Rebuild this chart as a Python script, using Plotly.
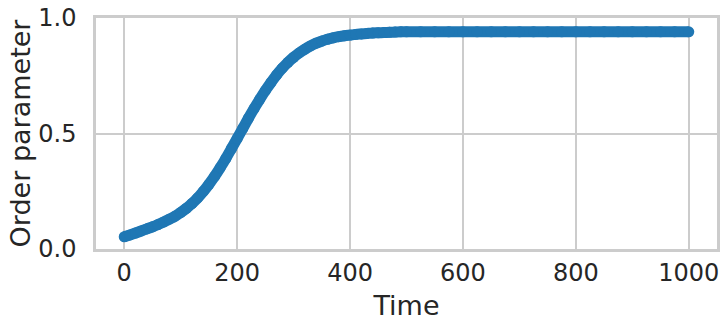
import plotly.graph_objects as go

# Time samples and order-parameter values
time_early = [0, 10, 20, 30, 40, 50, 60, 70, 80, 90,
              100, 110, 120, 130, 140, 150, 160, 170, 180, 190,
              200, 210, 220, 230, 240, 250, 260, 270, 280, 290,
              300, 310, 320, 330, 340, 350, 360, 370, 380, 390,
              400, 410, 420, 430, 440, 450, 460, 470, 480, 490]
order_early = [0.053, 0.061, 0.069, 0.078, 0.087, 0.096, 0.106, 0.117, 0.129, 0.142,
               0.158, 0.176, 0.197, 0.221, 0.249, 0.280, 0.314, 0.352, 0.392, 0.435,
               0.478, 0.522, 0.566, 0.608, 0.648, 0.686, 0.721, 0.754, 0.783, 0.808,
               0.830, 0.849, 0.865, 0.879, 0.891, 0.900, 0.908, 0.914, 0.919, 0.923,
               0.926, 0.929, 0.931, 0.933, 0.935, 0.936, 0.937, 0.938, 0.939, 0.940]
time_late = [500, 525, 550, 575, 600, 625, 650, 675, 700, 725,
             750, 775, 800, 825, 850, 875, 900, 925, 950, 975, 1000]
order_late = [0.940, 0.940, 0.940, 0.940, 0.940, 0.940, 0.940, 0.940, 0.940, 0.940,
              0.940, 0.940, 0.940, 0.940, 0.940, 0.940, 0.940, 0.940, 0.940, 0.940, 0.940]

x_ticks = [0, 200, 400, 600, 800, 1000]
y_ticks = [0.0, 0.5, 1.0]

time = time_early + time_late
order = order_early + order_late

BLUE = "#1f77b4"
TEXT = "#262626"
GRID = "#cccccc"
FONT = "DejaVu Sans"

fig = go.Figure()
fig.add_trace(go.Scatter(
    x=time, y=order, mode="lines+markers",
    line=dict(color=BLUE, width=11, shape="spline", smoothing=1.0),
    marker=dict(color=BLUE, size=11, line=dict(width=0)),
    showlegend=False,
))

fig.update_layout(
    width=728, height=331,
    margin=dict(l=96, r=11, t=18, b=82),
    paper_bgcolor="white", plot_bgcolor="white",
    font=dict(family=FONT, color=TEXT, size=24),
    xaxis=dict(
        range=[-50, 1050], tickvals=x_ticks, ticktext=[str(v) for v in x_ticks],
        showgrid=True, gridcolor=GRID, gridwidth=1.5, zeroline=False,
        showline=True, linecolor=GRID, linewidth=2.5, mirror=True,
        ticks="",
        tickfont=dict(size=24, family=FONT, color=TEXT),
        title=dict(text="Time", font=dict(size=27, family=FONT, color=TEXT), standoff=11),
        automargin=False,
    ),
    yaxis=dict(
        range=[0, 1], tickvals=y_ticks, ticktext=["0.0", "0.5", "1.0"],
        showgrid=True, gridcolor=GRID, gridwidth=1.5, zeroline=False,
        showline=True, linecolor=GRID, linewidth=2.5, mirror=True,
        ticks="outside", ticklen=12, tickcolor="rgba(0,0,0,0)",
        tickfont=dict(size=24, family=FONT, color=TEXT),
        title=dict(text="Order parameter", font=dict(size=27, family=FONT, color=TEXT), standoff=0),
        automargin=False,
    ),
)

fig.write_html("out.html", config={"displayModeBar": False},
               post_script="document.body.style.margin='0';")
